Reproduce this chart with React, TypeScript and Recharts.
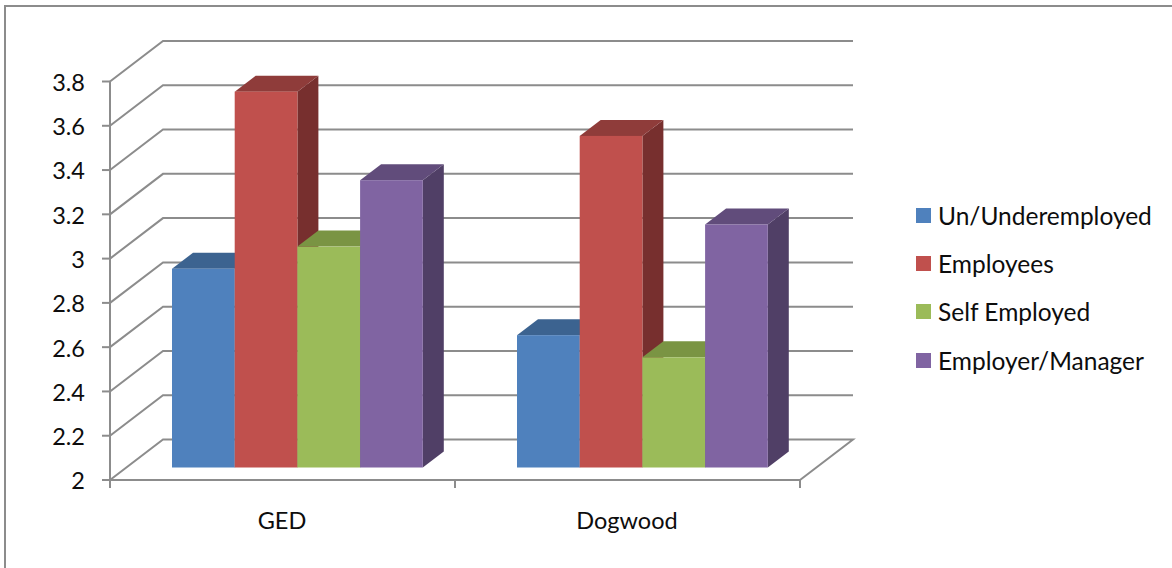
import React from "react";
import { BarChart, Bar, CartesianGrid, Legend, XAxis, YAxis } from "recharts";

// Survey means by credential and employment status
const categories = ["GED", "Dogwood"];
const unUnderemployed = [2.9, 2.6];
const employees = [3.7, 3.5];
const selfEmployed = [3.0, 2.5];
const employerManager = [3.3, 3.1];
const yTicks = [2, 2.2, 2.4, 2.6, 2.8, 3, 3.2, 3.4, 3.6, 3.8];

const rows = categories.map((name, i) => ({
  name,
  unUnderemployed: unUnderemployed[i],
  employees: employees[i],
  selfEmployed: selfEmployed[i],
  employerManager: employerManager[i],
}));

const WIDTH = 1172;
const HEIGHT = 568;
const FONT = "Lato, Carlito, Calibri, sans-serif";
const AXIS_COLOR = "#8c8c8c";
const TEXT_COLOR = "#0d0d0d";

// Oblique projection of the chart box and of each column
const WALL_DX = 53;
const WALL_DY = -40.5;
const COL_DX = 21;
const COL_DY = -16;
const COL_SHIFT_X = 15;
const COL_SHIFT_Y = -12;
const PLOT_BOTTOM = 480;
const HALF_BAND = 172.5;

const seriesDefs = [
  { key: "unUnderemployed", label: "Un/Underemployed", front: "#4F81BD", top: "#3C6390", side: "#315174" },
  { key: "employees", label: "Employees", front: "#C0504D", top: "#8F3C3A", side: "#772F2E" },
  { key: "selfEmployed", label: "Self Employed", front: "#9BBB59", top: "#7A9443", side: "#627837" },
  { key: "employerManager", label: "Employer/Manager", front: "#8064A2", top: "#614C7B", side: "#503F66" },
];

// Draws one column as a front face with a top and a right-hand face
const makeColumn = (front: string, top: string, side: string) => (props: any) => {
  const x = props.x + COL_SHIFT_X;
  const y = props.y + COL_SHIFT_Y;
  const w = props.width;
  const h = props.height - 0.5;
  return (
    <g>
      <polygon
        points={`${x + w},${y} ${x + w + COL_DX},${y + COL_DY} ${x + w + COL_DX},${y + h + COL_DY} ${x + w},${y + h}`}
        fill={side}
      />
      <polygon
        points={`${x},${y} ${x + COL_DX},${y + COL_DY} ${x + w + COL_DX},${y + COL_DY} ${x + w},${y}`}
        fill={top}
      />
      <rect x={x} y={y} width={w} height={h} fill={front} />
    </g>
  );
};

// A gridline runs up the side wall, then along the back wall; the lowest one outlines the floor
const wallLine = (props: any) => {
  const { x1, x2, y1 } = props;
  const backY = y1 + WALL_DY;
  let d = `M${x1},${y1} L${x1 + WALL_DX},${backY} L${x2 + WALL_DX},${backY}`;
  if (y1 >= PLOT_BOTTOM - 0.5) d += ` L${x2},${y1}`;
  return <path key={props.key ?? y1} d={d} fill="none" stroke={AXIS_COLOR} strokeWidth={2} />;
};

// Category label, with tick marks on the band boundaries instead of its centre
const CategoryTick = (props: any) => {
  const { x, y, payload, index } = props;
  return (
    <g>
      {index === 0 && (
        <line x1={x - HALF_BAND} x2={x - HALF_BAND} y1={PLOT_BOTTOM} y2={PLOT_BOTTOM + 8} stroke={AXIS_COLOR} strokeWidth={2} />
      )}
      <line x1={x + HALF_BAND} x2={x + HALF_BAND} y1={PLOT_BOTTOM} y2={PLOT_BOTTOM + 8} stroke={AXIS_COLOR} strokeWidth={2} />
      <text x={x - 0.5} y={y + 41} textAnchor="middle" fontFamily={FONT} fontSize={23.5} fill={TEXT_COLOR}>
        {payload.value}
      </text>
    </g>
  );
};

const LegendList = (props: any) => (
  <div style={{ fontFamily: FONT, fontSize: 24.5, color: TEXT_COLOR }}>
    {(props.payload ?? []).map((item: any) => (
      <div key={item.value} style={{ display: "flex", alignItems: "center", height: 48.3 }}>
        <span style={{ width: 15, height: 15, background: item.color, marginRight: 7, flex: "none" }} />
        <span style={{ whiteSpace: "nowrap" }}>{item.value}</span>
      </div>
    ))}
  </div>
);

export default function App() {
  return (
    <div style={{ position: "absolute", left: 0, top: 0, width: WIDTH, height: HEIGHT, background: "#fff", overflow: "hidden" }}>
      <div
        style={{
          position: "absolute",
          left: 4,
          top: 5,
          right: 0,
          bottom: 0,
          borderLeft: `2px solid ${AXIS_COLOR}`,
          borderTop: `2px solid ${AXIS_COLOR}`,
        }}
      />
      <BarChart
        width={WIDTH}
        height={HEIGHT}
        data={rows}
        barGap={0}
        barSize={62.7}
        margin={{ top: 81.5, right: 372, bottom: 48, left: 50 }}
        style={{ position: "absolute", left: 0, top: 0 }}
      >
        <CartesianGrid vertical={false} horizontal={wallLine} />
        <XAxis
          dataKey="name"
          height={40}
          axisLine={{ stroke: AXIS_COLOR, strokeWidth: 2 }}
          tickLine={false}
          tick={<CategoryTick />}
          interval={0}
        />
        <YAxis
          width={60}
          domain={[2, 3.8]}
          ticks={yTicks}
          interval={0}
          axisLine={{ stroke: AXIS_COLOR, strokeWidth: 2 }}
          tickLine={{ stroke: AXIS_COLOR, strokeWidth: 2 }}
          tickSize={8}
          tickMargin={17}
          tick={{ fontFamily: FONT, fontSize: 23.5, fill: TEXT_COLOR, dy: 1 }}
        />
        <Legend
          layout="vertical"
          align="center"
          verticalAlign="middle"
          itemSorter={null}
          content={<LegendList />}
          wrapperStyle={{ left: 916, top: 191, width: 250, margin: 0 }}
        />
        {seriesDefs.map((s) => (
          <Bar
            key={s.key}
            dataKey={s.key}
            name={s.label}
            fill={s.front}
            isAnimationActive={false}
            shape={makeColumn(s.front, s.top, s.side)}
          />
        ))}
      </BarChart>
    </div>
  );
}
